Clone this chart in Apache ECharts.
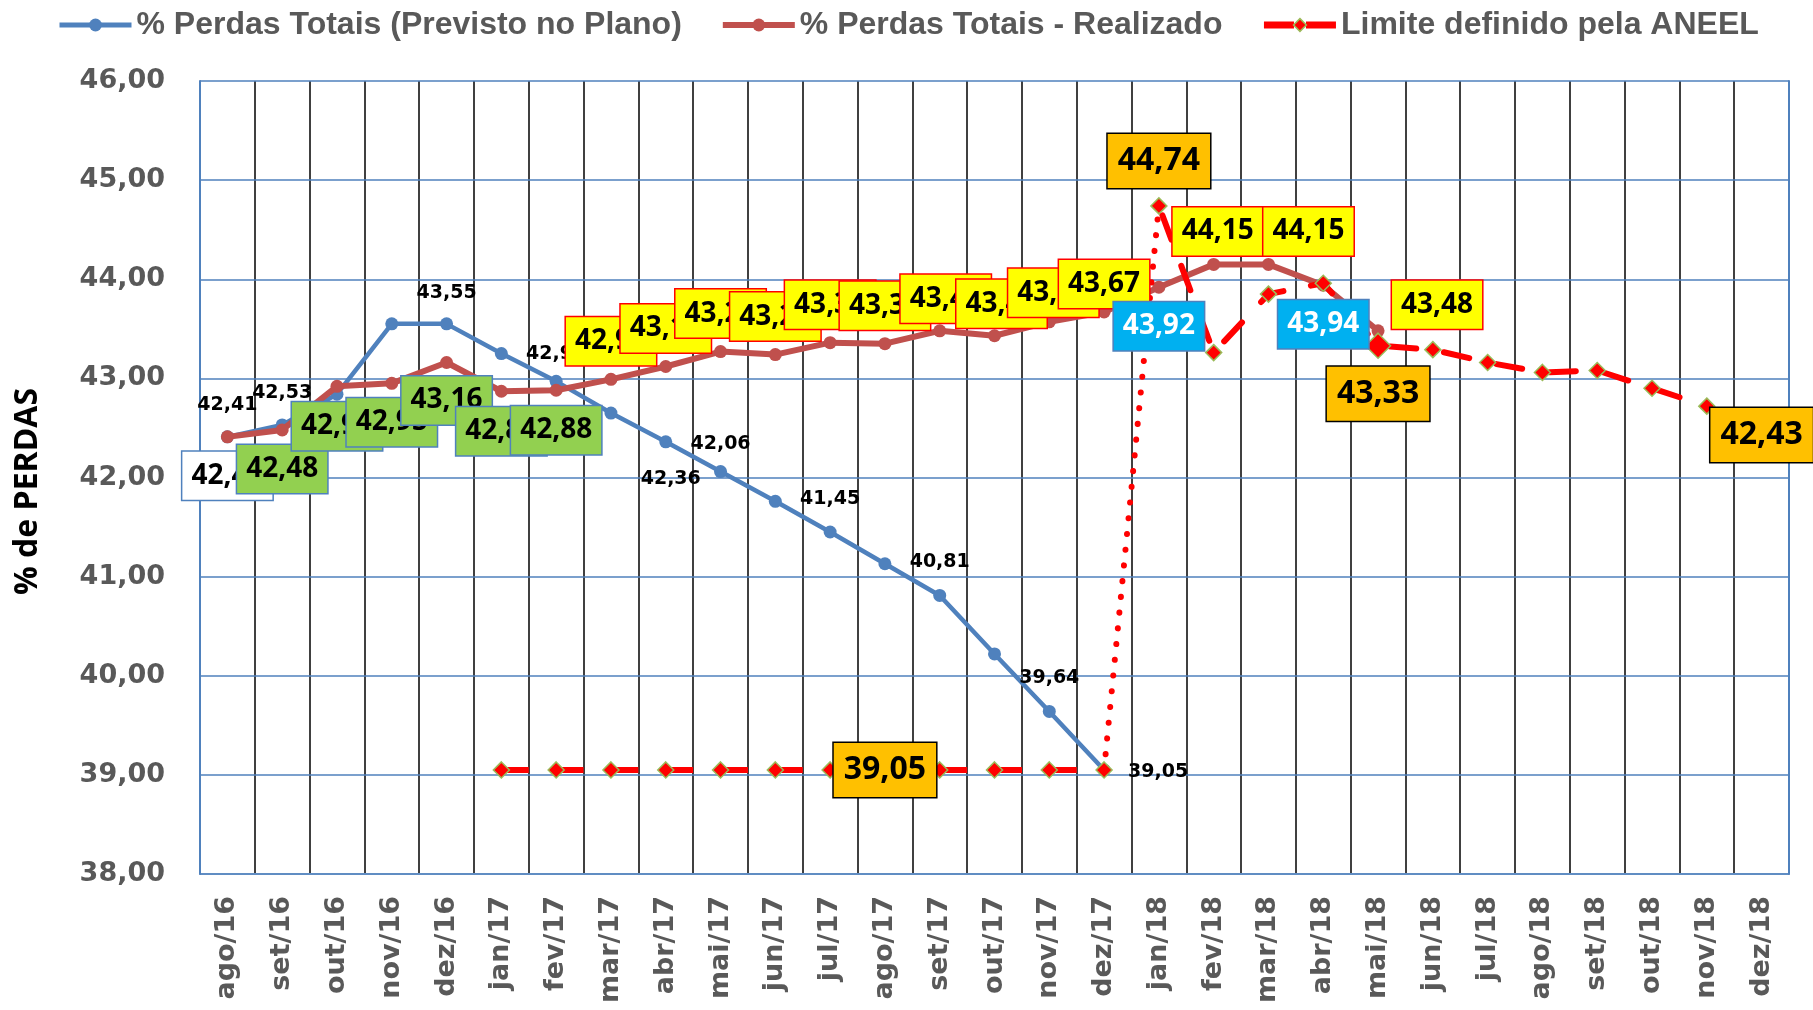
<!DOCTYPE html>
<html><head><meta charset="utf-8">
<script src="https://cdn.jsdelivr.net/npm/echarts@6/dist/echarts.min.js"></script>
<style>html,body{margin:0;padding:0;background:#fff}#c{width:1813px;height:1010px}</style>
</head><body><div id="c"></div>
<script>
const categories = ['ago/16','set/16','out/16','nov/16','dez/16','jan/17','fev/17','mar/17','abr/17','mai/17','jun/17','jul/17','ago/17','set/17','out/17','nov/17','dez/17','jan/18','fev/18','mar/18','abr/18','mai/18','jun/18','jul/18','ago/18','set/18','out/18','nov/18','dez/18'];
const previsto = [42.41,42.53,42.84,43.55,43.55,43.25,42.97,42.65,42.36,42.06,41.76,41.45,41.13,40.81,40.22,39.64,39.05,null,null,null,null,null,null,null,null,null,null,null,null];
const realizado = [42.41,42.48,42.92,42.95,43.16,42.87,42.88,42.99,43.12,43.27,43.24,43.36,43.35,43.48,43.43,43.57,43.67,43.92,44.15,44.15,43.94,43.48,null,null,null,null,null,null,null];
const limiteAneel = [null,null,null,null,null,39.05,39.05,39.05,39.05,39.05,39.05,39.05,39.05,39.05,39.05,39.05,39.05,44.74,43.26,43.85,43.96,43.33,43.29,43.16,43.06,43.08,42.90,42.72,42.43];
const yMin = 38, yMax = 46, yStep = 1;
const legendNames = ['% Perdas Totais (Previsto no Plano)', '% Perdas Totais - Realizado', 'Limite definido pela ANEEL'];

const fmt = v => Number(v).toFixed(2).replace('.', ',');

// ---- label styling (presentation only) ----
const BOX = { fontFamily: 'Open Sans', fontWeight: 'bold', fontSize: 28, lineHeight: 32, color: '#000', borderWidth: 1.5, padding: [9, 9, 7, 9] };
const boxStyles = {
  white:  { backgroundColor: '#ffffff', borderColor: '#4f81bd' },
  green:  { backgroundColor: '#92d050', borderColor: '#4f81bd' },
  yellow: { backgroundColor: '#ffff00', borderColor: '#ff0000' },
  cyan:   { backgroundColor: '#00b0f0', borderColor: '#4f81bd', color: '#ffffff' },
  orange: { backgroundColor: '#ffc000', borderColor: '#000000', fontSize: 32, lineHeight: 36, padding: [10, 10, 8, 10] }
};
const realizadoLabels = {0:['white',0,39],1:['green',0,39],2:['green',0,40],3:['green',0,39],4:['green',0,38],5:['green',0,40],6:['green',0,40],
  7:['yellow',0,-38],8:['yellow',0,-38],9:['yellow',0,-38],10:['yellow',0,-38],11:['yellow',0,-38],12:['yellow',0,-38],13:['yellow',6,-32],14:['yellow',7,-32],15:['yellow',4,-29],16:['yellow',0,-28],
  17:['cyan',0,39],18:['yellow',4,-33],19:['yellow',40,-33],20:['cyan',0,39],21:['yellow',59,-26]};
const previstoLabels = {0:[0,-32],1:[0,-32],4:[0,-31],6:[0,-27],8:[5,37],9:[0,-27],11:[0,-33],13:[0,-33],15:[0,-33],16:[54,2]};
const aneelLabels = {12:[0,0],17:[0,-45],21:[0,48],28:[0,0]};
const bigMarker = {21: 25};

const chart = echarts.init(document.getElementById('c'));

const aneelItem = (v, i) => {
  const it = { value: v };
  if (aneelLabels[i]) it.label = Object.assign({ show: true, position: 'inside', offset: aneelLabels[i] }, BOX, boxStyles.orange);
  if (bigMarker[i]) it.symbolSize = bigMarker[i];
  return it;
};
const aneelStyle = { color: '#ff0000', borderColor: '#9bbb59', borderWidth: 1.5 };

const series = [
  {
    name: legendNames[0], type: 'line', z: 2,
    data: previsto.map((v, i) => ({ value: v, label: previstoLabels[i] ? { show: true, offset: previstoLabels[i] } : { show: false } })),
    symbol: 'circle', symbolSize: 13,
    itemStyle: { color: '#4f81bd' }, lineStyle: { color: '#4f81bd', width: 4.5 },
    label: { position: 'inside', formatter: p => fmt(p.value), fontFamily: 'DejaVu Sans', fontWeight: 'bold', fontSize: 19, color: '#000' }
  },
  {
    name: legendNames[1], type: 'line', z: 3, data: realizado,
    symbol: 'circle', symbolSize: 13,
    itemStyle: { color: '#c0504d' }, lineStyle: { color: '#c0504d', width: 6 }
  },
  {
    name: 'ligacao-aneel', type: 'line', z: 4,
    data: limiteAneel.map((v, i) => (categories[i] === 'dez/17' || categories[i] === 'jan/18') ? v : null),
    symbol: 'none', lineStyle: { color: '#ff0000', width: 6, type: [0.1, 15.7], cap: 'round' }
  },
  {
    name: legendNames[2], type: 'line', z: 4,
    data: limiteAneel.map((v, i) => categories[i].endsWith('/17') ? aneelItem(v, i) : null),
    symbol: 'diamond', symbolSize: 16, itemStyle: aneelStyle,
    lineStyle: { color: '#ff0000', width: 6, type: [27.4, 27.4] },
    label: { formatter: p => fmt(p.value) }
  },
  {
    name: legendNames[2], type: 'line', z: 4,
    data: limiteAneel.map((v, i) => categories[i].endsWith('/18') ? aneelItem(v, i) : null),
    symbol: 'diamond', symbolSize: 16, itemStyle: aneelStyle,
    lineStyle: { color: '#ff0000', width: 6, type: [26, 28], dashOffset: 44, cap: 'round' },
    label: { formatter: p => fmt(p.value) }
  },
  {
    name: 'rotulos-realizado', type: 'line', z: 5, silent: true,
    data: realizado.map((v, i) => {
      const L = realizadoLabels[i];
      return { value: v, label: L ? Object.assign({ show: true, offset: [L[1], L[2]] }, boxStyles[L[0]]) : { show: false } };
    }),
    symbol: 'circle', symbolSize: 1, itemStyle: { color: 'rgba(0,0,0,0)' },
    lineStyle: { width: 0, opacity: 0 },
    label: Object.assign({ position: 'inside', formatter: p => fmt(p.value) }, BOX)
  }
];

chart.setOption({
  animation: false,
  backgroundColor: '#ffffff',
  legend: {
    data: [
      { name: legendNames[0], lineStyle: { width: 5 }, itemStyle: { color: '#4f81bd' } },
      { name: legendNames[1], lineStyle: { width: 6 }, itemStyle: { color: '#c0504d' } },
      { name: legendNames[2], lineStyle: { width: 7, type: [30, 12] }, itemStyle: { color: '#ff0000', borderColor: '#9bbb59', borderWidth: 1.5 } }
    ],
    left: 52, top: 4, itemWidth: 72, itemHeight: 16, itemGap: 38,
    textStyle: { fontFamily: 'Liberation Sans', fontWeight: 'bold', fontSize: 32, color: '#595959' }
  },
  grid: { left: 200, right: 24, top: 81, bottom: 136 },
  xAxis: {
    type: 'category', data: categories, boundaryGap: true,
    axisTick: { show: false },
    axisLine: { lineStyle: { color: '#95b3d7', width: 2 } },
    axisLabel: { interval: 0, rotate: 90, margin: 22, fontFamily: 'DejaVu Sans', fontWeight: 'bold', fontSize: 27, color: '#595959' },
    splitLine: { show: true, lineStyle: { color: '#000000', width: 1.5 } }
  },
  yAxis: [
    {
      type: 'value', min: yMin, max: yMax, interval: yStep, z: 1,
      axisLine: { show: true, lineStyle: { color: '#4f81bd', width: 2 } },
      axisTick: { show: false },
      axisLabel: { margin: 35, formatter: v => fmt(v), fontFamily: 'DejaVu Sans', fontWeight: 'bold', fontSize: 27, color: '#595959' },
      splitLine: { lineStyle: { color: '#4f81bd', width: 1.5 } },
      name: '% de PERDAS', nameLocation: 'middle', nameGap: 156, nameRotate: 90,
      nameTextStyle: { fontFamily: 'Open Sans', fontWeight: 'bold', fontSize: 32, color: '#000', padding: [0, 28, 0, 0] }
    },
    {
      type: 'value', min: yMin, max: yMax, interval: yStep, position: 'right', z: 1,
      axisLine: { show: true, lineStyle: { color: '#4f81bd', width: 2 } },
      axisTick: { show: false }, axisLabel: { show: false }, splitLine: { show: false }
    }
  ],
  series: series
});
</script>
</body></html>
